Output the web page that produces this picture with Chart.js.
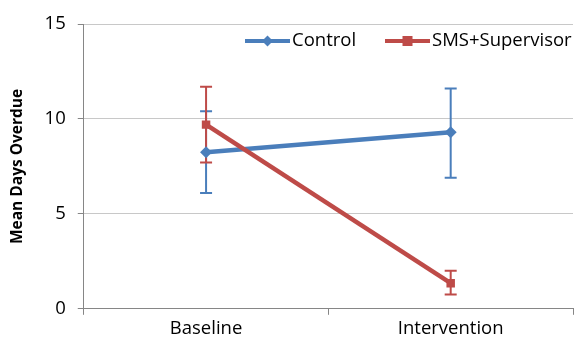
<!DOCTYPE html>
<html>
<head>
<meta charset="utf-8">
<script src="https://cdn.jsdelivr.net/npm/chart.js@4.4.1/dist/chart.umd.min.js"></script>
<style>
  html, body { margin: 0; padding: 0; background: #fff; overflow: hidden; }
  #wrap { width: 579px; height: 343px; }
</style>
</head>
<body>
<div id="wrap"><canvas id="chart"></canvas></div>
<script>
const categories = ['Baseline', 'Intervention'];
const seriesNames = ['Control', 'SMS+Supervisor'];
const controlMean = [8.25, 9.3];
const controlLow = [6.1, 6.9];
const controlHigh = [10.4, 11.6];
const smsMean = [9.7, 1.35];
const smsLow = [7.7, 0.75];
const smsHigh = [11.7, 2.0];

const blue = '#4a7ebb';
const red = '#be4b48';
const font = "'Open Sans', 'Liberation Sans', sans-serif";

// error bars drawn from the y scale
const errorBars = {
  id: 'errorBars',
  beforeDatasetsDraw(chart) {
    const ctx = chart.ctx;
    const x = chart.scales.x, y = chart.scales.y;
    const sets = [[controlLow, controlHigh, blue], [smsLow, smsHigh, red]];
    ctx.save();
    ctx.lineWidth = 2;
    sets.forEach(([lo, hi, col]) => {
      ctx.strokeStyle = col;
      lo.forEach((v, i) => {
        const px = x.getPixelForValue(i);
        const p1 = y.getPixelForValue(v), p2 = y.getPixelForValue(hi[i]);
        ctx.beginPath();
        ctx.moveTo(px, p1); ctx.lineTo(px, p2);
        ctx.moveTo(px - 6, p1); ctx.lineTo(px + 6, p1);
        ctx.moveTo(px - 6, p2); ctx.lineTo(px + 6, p2);
        ctx.stroke();
      });
    });
    ctx.restore();
  }
};

// legend inside the top right of the plot, line + marker like Excel
const insideLegend = {
  id: 'insideLegend',
  afterDraw(chart) {
    const ctx = chart.ctx, a = chart.chartArea;
    const yy = a.top + 17;
    const items = [
      { text: seriesNames[0], color: blue, shape: 'diamond', x: a.right - 328 },
      { text: seriesNames[1], color: red, shape: 'square', x: a.right - 188 }
    ];
    ctx.save();
    ctx.font = '18.5px ' + font;
    ctx.textBaseline = 'middle';
    items.forEach(it => {
      ctx.strokeStyle = it.color; ctx.fillStyle = it.color; ctx.lineWidth = 4;
      ctx.beginPath(); ctx.moveTo(it.x, yy); ctx.lineTo(it.x + 45, yy); ctx.stroke();
      const cx = it.x + 22.5;
      if (it.shape === 'diamond') {
        ctx.beginPath(); ctx.moveTo(cx, yy - 5.5); ctx.lineTo(cx + 5.5, yy); ctx.lineTo(cx, yy + 5.5); ctx.lineTo(cx - 5.5, yy); ctx.closePath(); ctx.fill();
      } else {
        ctx.fillRect(cx - 5, yy - 5, 10, 10);
      }
      ctx.fillStyle = '#000';
      ctx.fillText(it.text, it.x + 47, yy);
    });
    ctx.restore();
  }
};

new Chart(document.getElementById('chart'), {
  type: 'line',
  data: {
    labels: categories,
    datasets: [
      { label: seriesNames[0], data: controlMean, borderColor: blue, backgroundColor: blue, borderWidth: 4.5,
        pointStyle: 'rectRot', pointRadius: 6, pointBorderWidth: 0, order: 1 },
      { label: seriesNames[1], data: smsMean, borderColor: red, backgroundColor: red, borderWidth: 4.5,
        pointStyle: 'rect', pointRadius: 6, pointBorderWidth: 0, order: 0 }
    ]
  },
  options: {
    responsive: true,
    maintainAspectRatio: false,
    animation: false,
    layout: { padding: { top: 24, right: 0, left: 2, bottom: 0 } },
    plugins: {
      tooltip: { enabled: false },
      legend: { display: false }
    },
    scales: {
      x: {
        offset: true,
        grid: { offset: true, drawOnChartArea: false, tickLength: 6, color: '#868686' },
        border: { color: '#868686' },
        ticks: { font: { family: font, size: 18.5 }, color: '#000', padding: 3 }
      },
      y: {
        min: 0, max: 15,
        ticks: { stepSize: 5, font: { family: font, size: 18.5 }, color: '#000', padding: 12 },
        grid: { color: '#c8c8c8', tickColor: '#868686', tickLength: 6 },
        border: { color: '#868686' },
        title: { display: true, text: 'Mean Days Overdue', font: { family: font, size: 15.5, weight: 'bold' }, color: '#000', padding: 6 }
      }
    }
  },
  plugins: [errorBars, insideLegend]
});
</script>
</body>
</html>
